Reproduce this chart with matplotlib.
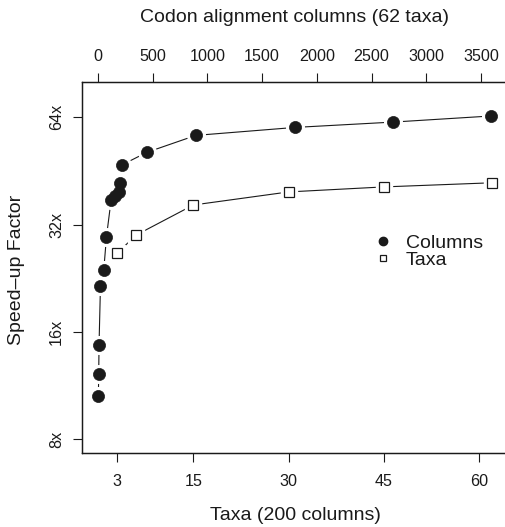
import numpy as np
import matplotlib
matplotlib.use("Agg")
import matplotlib.pyplot as plt
from matplotlib.ticker import FixedLocator, FixedFormatter, NullLocator
from matplotlib.lines import Line2D

plt.rcParams['font.family'] = ['Liberation Sans', 'DejaVu Sans']

# Columns series (top axis: codon alignment columns, 62 taxa)
col_x = [3, 6, 9, 22, 52, 77, 119, 156, 192, 199, 217, 446, 894, 1800, 2694, 3594]
col_speedup = [10.6, 12.2, 14.7, 21.5, 23.8, 29.6, 37.4, 38.4, 39.4, 41.9, 47.0,
               51.0, 56.9, 59.9, 62.0, 64.5]

# Taxa series (bottom axis: taxa, 200 columns)
taxa_x = [3, 6, 15, 30, 45, 62]
taxa_speedup = [26.6, 29.9, 36.3, 39.5, 40.8, 41.9]

bottom_ticks = [3, 15, 30, 45, 60]
top_ticks = [0, 500, 1000, 1500, 2000, 2500, 3000, 3500]
y_ticks = [8, 16, 32, 64]
y_ticklabels = ["8x", "16x", "32x", "64x"]

MAX_TAXA = 62
MAX_COLS = 3600
scale = MAX_COLS / MAX_TAXA

W, H = 505, 527
fig = plt.figure(figsize=(W / 100, H / 100), dpi=100)
left, right, top, bottom = 82.3, 507.6, 82.0, 453.0
ax = fig.add_axes([left / W, 1 - bottom / H, (right - left) / W, (bottom - top) / H])

fs_tick = 11.6
fs_lab = 14.0
ink = '#1a1a1a'

# limits (R style 4% extension)
xmin, xmax = 0, MAX_TAXA
ext = 0.04 * (xmax - xmin)
ax.set_xlim(xmin - ext, xmax + ext)
ax.set_yscale('log', base=2)
lo, hi = np.log2(8), np.log2(73.5)
e = 0.04 * (hi - lo)
ax.set_ylim(2 ** (lo - e), 2 ** (hi + e))

ax2 = ax.twiny()
ax2.set_xlim((xmin - ext) * scale, (xmax + ext) * scale)

lw = 0.8
ms_c = 8.7
ms_s = 7.0

# Taxa series
ax.plot(taxa_x, taxa_speedup, color=ink, lw=lw, zorder=2)
ax.plot(taxa_x, taxa_speedup, ls='none', marker='s', ms=ms_s + 4, mfc='white',
        mec='white', zorder=3)
ax.plot(taxa_x, taxa_speedup, ls='none', marker='s', ms=ms_s, mfc='white',
        mec=ink, mew=0.9, zorder=4)

# Columns series
ax2.plot(col_x, col_speedup, color=ink, lw=lw, zorder=2)
ax2.plot(col_x, col_speedup, ls='none', marker='o', ms=ms_c + 4, mfc='white',
         mec='white', zorder=3)
ax2.plot(col_x, col_speedup, ls='none', marker='o', ms=ms_c, mfc=ink,
         mec=ink, mew=0.5, zorder=4)

# ticks
ax.xaxis.set_major_locator(FixedLocator(bottom_ticks))
ax.xaxis.set_major_formatter(FixedFormatter([str(t) for t in bottom_ticks]))
ax.yaxis.set_major_locator(FixedLocator(y_ticks))
ax.yaxis.set_major_formatter(FixedFormatter(y_ticklabels))
ax.yaxis.set_minor_locator(NullLocator())
ax2.xaxis.set_major_locator(FixedLocator(top_ticks))
ax2.xaxis.set_major_formatter(FixedFormatter([str(t) for t in top_ticks]))

tick_len = 6.3
for a in (ax, ax2):
    a.tick_params(direction='out', length=tick_len, width=0.8, color=ink,
                  labelsize=fs_tick, labelcolor=ink)
    for s in a.spines.values():
        s.set_linewidth(0.9)
        s.set_color(ink)
    a.spines['right'].set_visible(False)
ax.tick_params(axis='x', pad=17.3)
ax2.tick_params(axis='x', pad=9.0)
ax.tick_params(axis='y', pad=12.2)
for lab in ax.get_xticklabels() + ax2.get_xticklabels():
    lab.set_va('baseline')
for lab in ax.get_yticklabels():
    lab.set_rotation(90)
    lab.set_va('center')
    lab.set_ha('center')

ax.set_xlabel("Taxa (200 columns)", fontsize=fs_lab, color=ink, va='center')
ax.xaxis.set_label_coords(295 / W, 1 - 515 / H, transform=fig.transFigure)

ax.set_ylabel("Speed\u2013up Factor", fontsize=fs_lab, color=ink, va='center')
ax.yaxis.set_label_coords(17 / W, 1 - 270 / H, transform=fig.transFigure)

ax2.set_xlabel("Codon alignment columns (62 taxa)", fontsize=fs_lab, color=ink, va='center')
ax2.xaxis.set_label_coords(295 / W, 1 - 18 / H, transform=fig.transFigure)

# legend
h1 = Line2D([], [], ls='none', marker='o', ms=6.0, mfc=ink, mec=ink)
h2 = Line2D([], [], ls='none', marker='s', ms=5.0, mfc='white', mec=ink, mew=0.9)
leg = ax.legend([h1, h2], ["Columns", "Taxa"], frameon=False, fontsize=fs_lab,
                loc='upper left', bbox_to_anchor=(375.2 / W, 1 - 234 / H),
                bbox_transform=fig.transFigure, handlelength=0.8,
                handletextpad=0.79, labelspacing=0.0, borderpad=0,
                borderaxespad=0)
for t in leg.get_texts():
    t.set_color(ink)

fig.savefig("out.png", dpi=100)
